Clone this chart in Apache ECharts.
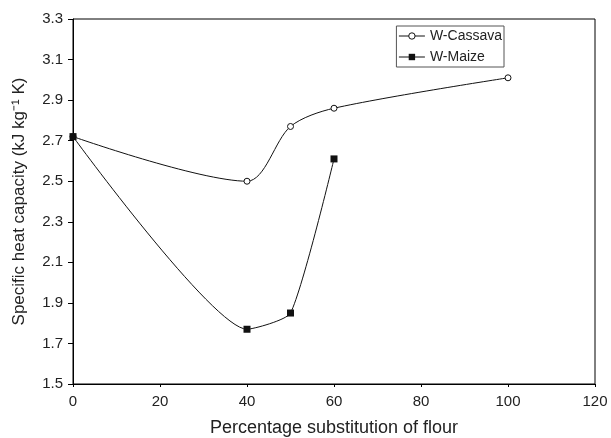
<!DOCTYPE html>
<html>
<head>
<meta charset="utf-8">
<script src="https://cdn.jsdelivr.net/npm/echarts@6/dist/echarts.min.js"></script>
<style>
    html, body { margin: 0; padding: 0; background: #fff; }
    #chart { width: 611px; height: 438px; }
</style>
</head>
<body>
<div id="chart"></div>
<script>
    var flourPct = [0, 40, 50, 60, 100];
    var cassava = [2.72, 2.50, 2.77, 2.86, 3.01];
    var maizePct = [0, 40, 50, 60];
    var maize = [2.72, 1.77, 1.85, 2.61];

    function pairs(xs, ys) {
        return xs.map(function (x, i) { return [x, ys[i]]; });
    }

    var heatChart = echarts.init(document.getElementById('chart'));
    var option = {
        animation: false,
        textStyle: { fontFamily: 'Liberation Sans, Arial, sans-serif' },
        grid: {
            left: 73,
            right: 16,
            top: 19,
            bottom: 54,
            outerBoundsMode: 'none',
            show: true,
            borderColor: '#000',
            borderWidth: 1
        },
        legend: {
            right: 107,
            top: 26,
            orient: 'vertical',
            itemGap: 7,
            itemWidth: 26,
            itemHeight: 8,
            padding: [3, 2, 3, 2],
            borderColor: '#555',
            borderWidth: 1,
            lineStyle: { width: 1 },
            itemStyle: { borderWidth: 1 },
            textStyle: { fontSize: 14, color: '#222' },
            data: ['W-Cassava', 'W-Maize']
        },
        xAxis: {
            type: 'value',
            min: 0,
            max: 120,
            interval: 20,
            name: 'Percentage substitution of flour',
            nameLocation: 'middle',
            nameGap: 35,
            nameTextStyle: { fontSize: 18, color: '#222' },
            axisLine: { lineStyle: { color: '#000' } },
            axisTick: { length: 3, lineStyle: { color: '#000' } },
            axisLabel: { fontSize: 15, color: '#222', margin: 10 },
            splitLine: { show: false }
        },
        yAxis: {
            type: 'value',
            min: 1.5,
            max: 3.3,
            interval: 0.2,
            name: 'Specific heat capacity (kJ kg\u207B\u00B9 K)',
            nameLocation: 'middle',
            nameGap: 45,
            nameTextStyle: { fontSize: 17, color: '#222' },
            axisLine: { lineStyle: { color: '#000' } },
            axisTick: { length: 5, lineStyle: { color: '#000' } },
            axisLabel: {
                fontSize: 15,
                color: '#222',
                margin: 10,
                formatter: function (v) { return v.toFixed(1); }
            },
            splitLine: { show: false }
        },
        series: [
            {
                name: 'W-Cassava',
                type: 'line',
                smooth: 0.3,
                data: pairs(flourPct, cassava),
                symbol: 'circle',
                symbolSize: 6,
                lineStyle: { color: '#111', width: 1 },
                itemStyle: { color: '#fff', borderColor: '#111', borderWidth: 1 }
            },
            {
                name: 'W-Maize',
                type: 'line',
                smooth: 0.18,
                data: pairs(maizePct, maize),
                symbol: 'rect',
                symbolSize: 7,
                lineStyle: { color: '#111', width: 1 },
                itemStyle: { color: '#111' }
            }
        ]
    };
    heatChart.setOption(option);
</script>
</body>
</html>
